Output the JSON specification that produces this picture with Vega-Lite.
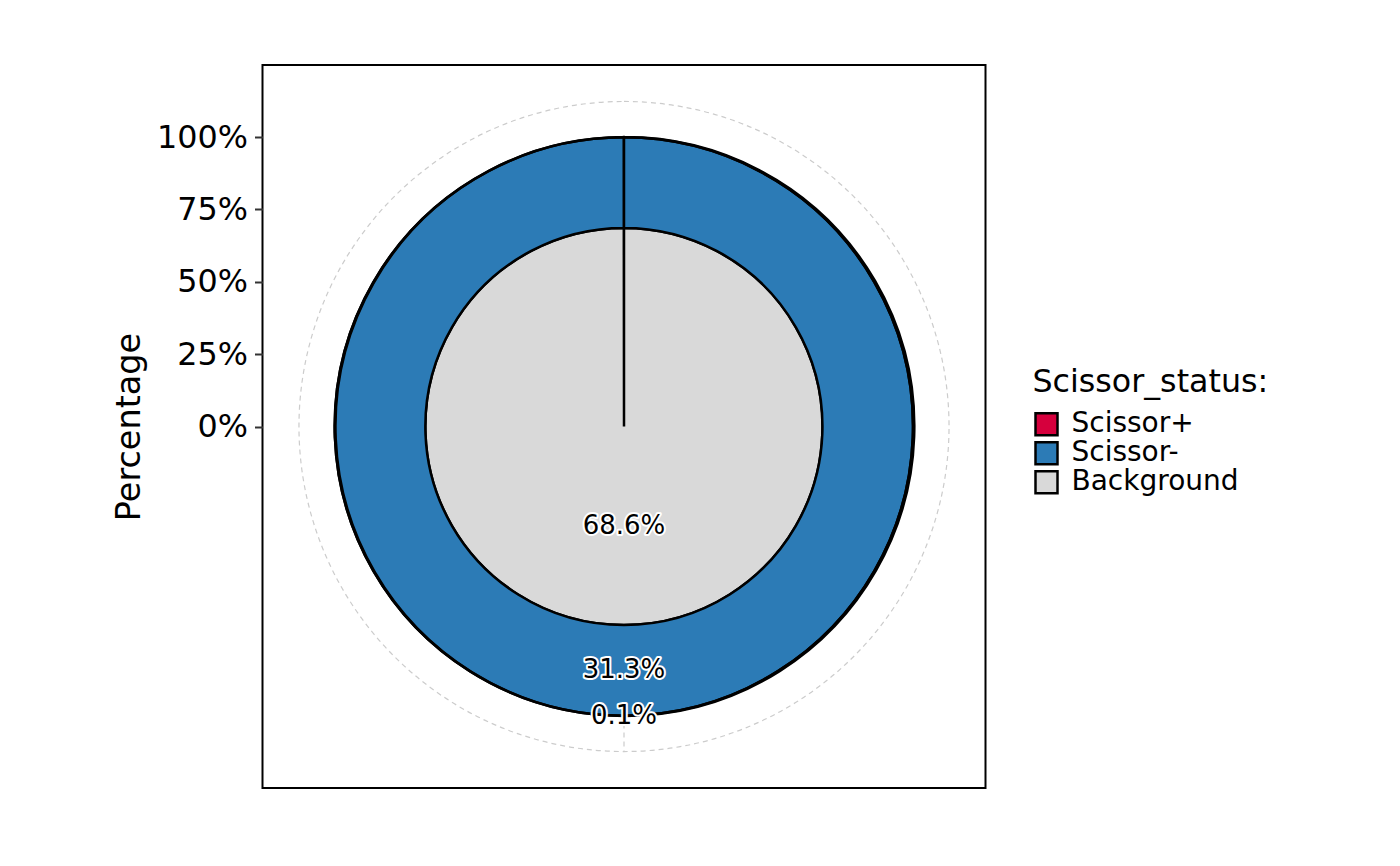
{
  "$schema": "https://vega.github.io/schema/vega-lite/v6.json",
  "width": 723,
  "height": 723,
  "autosize": {"type": "none"},
  "padding": {"left": 262.5, "top": 65, "right": 414.5, "bottom": 78},
  "background": "white",
  "config": {
    "font": "DejaVu Sans",
    "view": {"stroke": "black", "strokeWidth": 2},
    "axis": {"labelFont": "DejaVu Sans", "titleFont": "DejaVu Sans"},
    "legend": {"labelFont": "DejaVu Sans", "titleFont": "DejaVu Sans"}
  },
  "data": {
    "values": [
      {"status": "Background", "frac": 0.686, "ord": 1},
      {"status": "Scissor-", "frac": 0.313, "ord": 2},
      {"status": "Scissor+", "frac": 0.001, "ord": 3}
    ]
  },
  "layer": [
    {
      "data": {"values": [{}]},
      "mark": {"type": "rule", "stroke": "#CCCCCC", "strokeWidth": 1.2, "strokeDash": [5, 4]},
      "encoding": {
        "x": {"datum": 0, "type": "quantitative", "scale": {"domain": [-1, 1], "nice": false}, "axis": null},
        "y": {
          "datum": 0,
          "type": "quantitative",
          "scale": {"domain": [-1.249, 1.249], "nice": false, "zero": false},
          "axis": {
            "values": [0, 0.25, 0.5, 0.75, 1],
            "format": ".0%",
            "title": "Percentage",
            "grid": false,
            "domain": false,
            "ticks": true,
            "tickColor": "#333333",
            "tickWidth": 2,
            "tickSize": 8,
            "labelFontSize": 31.8,
            "labelColor": "black",
            "labelPadding": 7,
            "titleFontSize": 33.5,
            "titleFontWeight": "normal",
            "titleColor": "black",
            "titlePadding": 10
          }
        },
        "y2": {"datum": -1.123}
      }
    },
    {
      "data": {"values": [{}]},
      "mark": {"type": "arc", "theta": 0, "theta2": 6.2832, "filled": false, "stroke": "#CCCCCC", "strokeWidth": 1.2, "strokeDash": [5, 4]},
      "encoding": {
        "radius": {"datum": 1.123, "type": "quantitative"}
      }
    },
    {
      "mark": {"type": "arc", "theta": 0, "theta2": 6.2822, "stroke": "black", "strokeWidth": 2.5},
      "encoding": {
        "radius": {
          "field": "frac",
          "type": "quantitative",
          "stack": true,
          "scale": {"type": "linear", "domain": [0, 1.249], "nice": false, "zero": true}
        },
        "color": {
          "field": "status",
          "type": "nominal",
          "scale": {"domain": ["Scissor+", "Scissor-", "Background"], "range": ["#D6003D", "#2C7BB6", "#D9D9D9"]},
          "legend": {
            "orient": "none",
            "legendX": 770,
            "legendY": 302,
            "title": "Scissor_status:",
            "titleFontSize": 31.7,
            "titleFontWeight": "normal",
            "titleColor": "black",
            "titleLimit": 600,
            "titlePadding": 12,
            "labelFontSize": 28,
            "labelColor": "black",
            "labelOffset": 11,
            "labelLimit": 400,
            "symbolType": "square",
            "symbolSize": 484,
            "symbolStrokeColor": "black",
            "symbolStrokeWidth": 2.5,
            "symbolOpacity": 1,
            "clipHeight": 27,
            "rowPadding": 0,
            "padding": 0
          }
        },
        "order": {"field": "ord", "type": "quantitative"}
      }
    },
    {
      "mark": {"type": "text", "theta": 3.14159, "fontSize": 26, "stroke": "white", "strokeWidth": 4, "strokeJoin": "round", "fill": "white"},
      "encoding": {
        "radius": {"field": "frac", "type": "quantitative", "stack": true},
        "detail": {"field": "status", "type": "nominal"},
        "order": {"field": "ord", "type": "quantitative"},
        "text": {"field": "frac", "type": "quantitative", "format": ".1%"}
      }
    },
    {
      "mark": {"type": "text", "theta": 3.14159, "fontSize": 26, "fill": "black"},
      "encoding": {
        "radius": {"field": "frac", "type": "quantitative", "stack": true},
        "detail": {"field": "status", "type": "nominal"},
        "order": {"field": "ord", "type": "quantitative"},
        "text": {"field": "frac", "type": "quantitative", "format": ".1%"}
      }
    }
  ]
}
